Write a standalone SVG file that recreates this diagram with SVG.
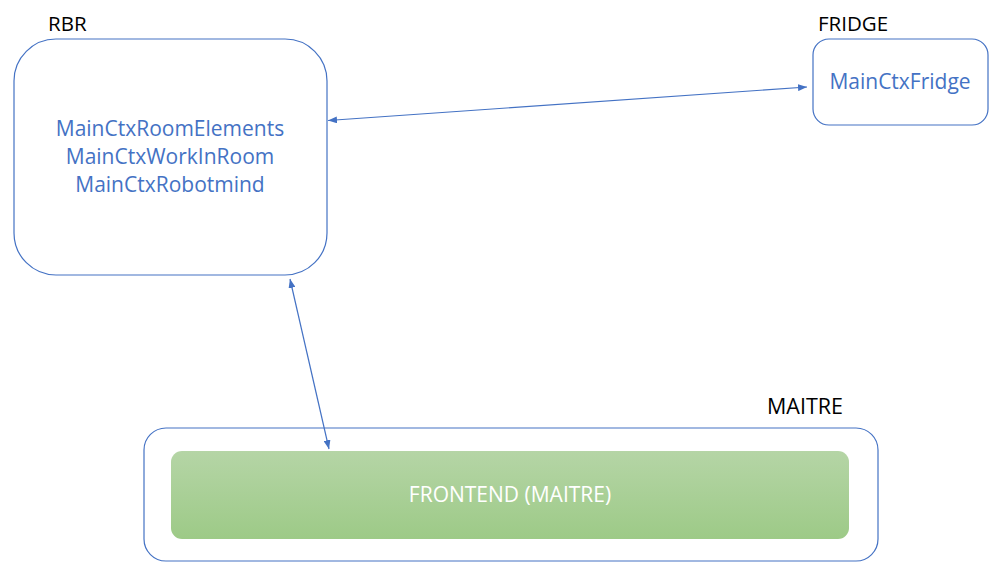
<svg xmlns="http://www.w3.org/2000/svg" width="1002" height="573" viewBox="0 0 1002 573">
<style>
.box{fill:#fff;stroke:#4472c4;stroke-width:1.2}
.lbl{font-family:"Open Sans","Liberation Sans",sans-serif;font-size:20.5px;fill:#000}
.inner{font-family:"Open Sans","Liberation Sans",sans-serif;font-size:21px;fill:#4472c4;text-anchor:middle}
.conn{stroke:#4472c4;stroke-width:1.2;fill:none;marker-start:url(#ah);marker-end:url(#ah)}
</style>
<defs>
<marker id="ah" viewBox="0 0 10 10" refX="10" refY="5" markerWidth="9" markerHeight="7" markerUnits="userSpaceOnUse" orient="auto-start-reverse" preserveAspectRatio="none">
<path d="M0,0 L10,5 L0,10 Z" fill="#4472c4"/>
</marker>
<linearGradient id="g" x1="0" y1="0" x2="0" y2="1">
<stop offset="0" stop-color="#b5d5a6"/>
<stop offset="1" stop-color="#9dca87"/>
</linearGradient>
</defs>
<rect width="1002" height="573" fill="#fff"/>
<g id="rbr">
<text class="lbl" x="48" y="31">RBR</text>
<rect class="box" x="14" y="39" width="313" height="236" rx="42" ry="42"/>
<text class="inner" x="170" y="136">MainCtxRoomElements</text>
<text class="inner" x="170" y="164">MainCtxWorkInRoom</text>
<text class="inner" x="170" y="192">MainCtxRobotmind</text>
</g>
<g id="fridge">
<text class="lbl" x="818" y="31">FRIDGE</text>
<rect class="box" x="813" y="39" width="175" height="86" rx="16" ry="16"/>
<text class="inner" x="900" y="89">MainCtxFridge</text>
</g>
<g id="maitre">
<text class="lbl" x="767" y="414" style="font-size:21.5px">MAITRE</text>
<rect class="box" x="144" y="428" width="734" height="133" rx="22" ry="22"/>
</g>
<g id="frontend">
<rect x="171" y="451" width="678" height="88" rx="11" ry="11" fill="url(#g)"/>
<text x="510" y="502" font-family="Open Sans, Liberation Sans, sans-serif" font-size="21" fill="#fff" text-anchor="middle">FRONTEND (MAITRE)</text>
</g>
<g id="connectors">
<line class="conn" x1="328" y1="120.5" x2="807" y2="87"/>
<line class="conn" x1="290" y1="279" x2="329" y2="449"/>
</g>
</svg>
